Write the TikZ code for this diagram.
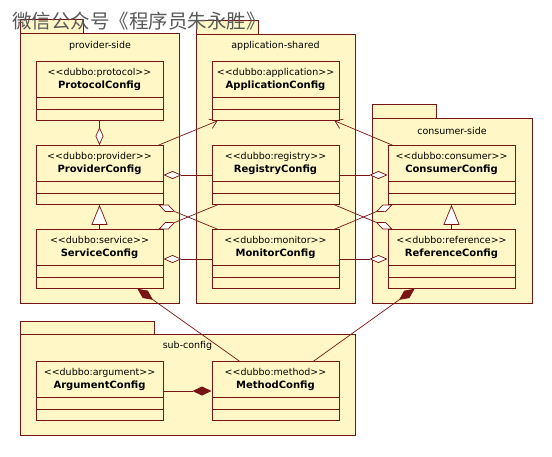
\documentclass[tikz,border=0pt]{standalone}
\usepackage{fontspec}
\usepackage{tikz}
\usetikzlibrary{shapes.multipart, arrows.meta}

\newfontfamily\umlfont{DejaVu Sans}
\newfontfamily\cjk{Noto Sans CJK SC}
\definecolor{umlfill}{RGB}{255,248,198}
\definecolor{umlline}{RGB}{120,20,20}

\newcommand{\stereo}[2]{\parbox[c][29pt][c]{125pt}{\centering {\fontsize{9.5}{12}\selectfont <<dubbo:#1>>}\\[0.5pt]\textbf{#2}}\nodepart{two}\nodepart{three}}

\begin{document}
\begin{tikzpicture}[x=1pt, y=-1pt, font=\umlfont\fontsize{9.5}{11.5}\selectfont,
    cls/.style={rectangle split, rectangle split parts=3, draw=umlline, fill=umlfill, line width=1pt,
        font=\umlfont\fontsize{10}{12}\selectfont,
        inner xsep=1pt, inner ysep=3pt, rectangle split empty part height=3.5pt, rectangle split empty part depth=0pt},
    pkg/.style={draw=umlline, fill=umlfill, line width=1pt},
    conn/.style={draw=umlline, line width=0.7pt},
    aggr/.style={conn, -{Diamond[length=18pt, width=8pt, fill=white]}},
    comp/.style={conn, -{Diamond[length=19pt, width=9pt, fill=umlline]}},
    inherit/.style={conn, -{Triangle[length=20pt, width=16pt, fill=white]}},
    dep/.style={conn, -{Straight Barb[length=7pt, width=10pt]}}]

        \fill[white] (0,0) rectangle (552,456);
        \useasboundingbox (0,0) rectangle (552,456);

        % Pakiety
        \draw[pkg] (20,19) rectangle (83,33);
        \draw[pkg] (20,33) rectangle (179,303);
        \node (providerside) at (100,46) {provider-side};

        \draw[pkg] (196,20) rectangle (258,34);
        \draw[pkg] (196,34) rectangle (355,303);
        \node (appshared) at (275.5,46) {application-shared};

        \draw[pkg] (372,104) rectangle (436,118);
        \draw[pkg] (372,118) rectangle (532,303);
        \node (consumerside) at (452,131) {consumer-side};

        \draw[pkg] (20,321) rectangle (154,334);
        \draw[pkg] (20,334) rectangle (355,435);
        \node (subconfig) at (187.5,346) {sub-config};

        % Klasy
        \node[cls] (ProtocolConfig) at (99.5,91) {\stereo{protocol}{ProtocolConfig}};
        \node[cls] (ProviderConfig) at (99.5,175) {\stereo{provider}{ProviderConfig}};
        \node[cls] (ServiceConfig) at (99.5,259) {\stereo{service}{ServiceConfig}};
        \node[cls] (ApplicationConfig) at (275.5,91) {\stereo{application}{ApplicationConfig}};
        \node[cls] (RegistryConfig) at (275.5,175) {\stereo{registry}{RegistryConfig}};
        \node[cls] (MonitorConfig) at (275.5,259) {\stereo{monitor}{MonitorConfig}};
        \node[cls] (ConsumerConfig) at (451.5,175) {\stereo{consumer}{ConsumerConfig}};
        \node[cls] (ReferenceConfig) at (451.5,259) {\stereo{reference}{ReferenceConfig}};
        \node[cls] (ArgumentConfig) at (99.5,391) {\stereo{argument}{ArgumentConfig}};
        \node[cls] (MethodConfig) at (275.5,391) {\stereo{method}{MethodConfig}};

        % Powiazania
        \draw[aggr] (ProtocolConfig) -- (ProviderConfig);
        \draw[inherit] (ServiceConfig) -- (ProviderConfig);
        \draw[inherit] (ReferenceConfig) -- (ConsumerConfig);

        \draw[dep] ([xshift=-5pt]ProviderConfig.north east) -- ([xshift=6pt]ApplicationConfig.south west);
        \draw[dep] ([xshift=5pt]ConsumerConfig.north west) -- ([xshift=-5pt]ApplicationConfig.south east);

        \draw[aggr] (RegistryConfig) -- (ProviderConfig);
        \draw[aggr] (RegistryConfig) -- (ConsumerConfig);
        \draw[aggr] (MonitorConfig) -- (ServiceConfig);
        \draw[aggr] (MonitorConfig) -- (ReferenceConfig);

        \draw[aggr] ([xshift=6pt]RegistryConfig.south west) -- ([xshift=-5pt]ServiceConfig.north east);
        \draw[aggr] ([xshift=6pt]MonitorConfig.north west) -- ([xshift=-5pt]ProviderConfig.south east);
        \draw[aggr] ([xshift=-5pt]RegistryConfig.south east) -- ([xshift=5pt]ReferenceConfig.north west);
        \draw[aggr] ([xshift=-5pt]MonitorConfig.north east) -- ([xshift=5pt]ConsumerConfig.south west);

        \draw[comp] ([xshift=28pt]MethodConfig.north west) -- ([xshift=38pt]ServiceConfig.south);
        \draw[comp] ([xshift=-26pt]MethodConfig.north east) -- ([xshift=27pt]ReferenceConfig.south west);
        \draw[comp] (ArgumentConfig) -- (MethodConfig);

        % Napis
        \node[font=\cjk\fontsize{19.5}{19.5}\selectfont, text=black!65, inner sep=0pt] (title) at (139,21) {微信公众号《程序员朱永胜》};
    \end{tikzpicture}
\end{document}
